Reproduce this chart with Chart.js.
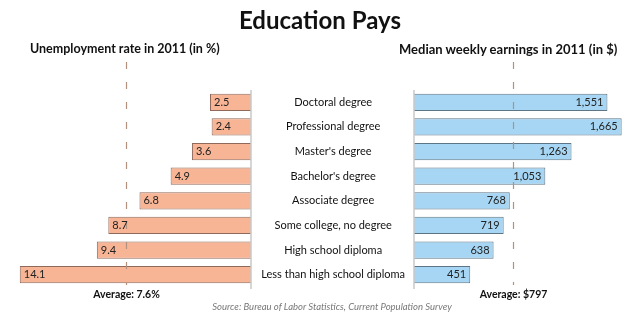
<!DOCTYPE html>
<html>
<head>
<meta charset="utf-8">
<script src="https://cdn.jsdelivr.net/npm/chart.js@4.4.1/dist/chart.umd.min.js"></script>
<style>
  html, body { margin: 0; padding: 0; background: #fff; }
  #wrap { position: relative; width: 640px; height: 328px; font-family: Lato, "Open Sans", sans-serif; color: #111; }
  .txt { position: absolute; white-space: nowrap; }
  #title { left: 0; width: 640px; top: 5px; text-align: center; font-size: 24px; font-weight: bold; }
  #hLeft { left: 30px; top: 41px; font-size: 12.5px; font-weight: bold; }
  #hRight { left: 399px; top: 41px; font-size: 13px; font-weight: bold; }
  #source { left: 24px; width: 616px; top: 301px; text-align: center; font-size: 9.5px; font-style: italic; color: #777; }
  #leftBox { position: absolute; left: 0; top: 0; width: 256px; height: 328px; }
  #rightBox { position: absolute; left: 240px; top: 0; width: 400px; height: 328px; }
</style>
</head>
<body>
<div id="wrap">
  <div id="rightBox"><canvas id="rightChart"></canvas></div>
  <div id="leftBox"><canvas id="leftChart"></canvas></div>
  <div class="txt" id="title">Education Pays</div>
  <div class="txt" id="hLeft">Unemployment rate in 2011 (in %)</div>
  <div class="txt" id="hRight">Median weekly earnings in 2011 (in $)</div>
  <div class="txt" id="source">Source: Bureau of Labor Statistics, Current Population Survey</div>
</div>
<script>
"use strict";

// kategorier (utbildningsnivå)
const degrees = [
  "Doctoral degree",
  "Professional degree",
  "Master's degree",
  "Bachelor's degree",
  "Associate degree",
  "Some college, no degree",
  "High school diploma",
  "Less than high school diploma"
];

// arbetslöshet i procent
const unemployment = [2.5, 2.4, 3.6, 4.9, 6.8, 8.7, 9.4, 14.1];
// veckolön i dollar
const earnings = [1551, 1665, 1263, 1053, 768, 719, 638, 451];

const unemploymentAvg = 7.6;
const earningsAvg = 797;

const fontName = "Lato, 'Open Sans', sans-serif";

// ritar baslinje, medelvärdeslinje och värden i staplarna
const extrasPlugin = {
  id: "extras",
  afterDatasetsDraw(chart, args, opts) {
    const ctx = chart.ctx;
    const x = chart.scales.x;
    const area = chart.chartArea;

    // grå baslinje vid noll
    const x0 = x.getPixelForValue(0);
    ctx.save();
    ctx.strokeStyle = "#c8c8c8";
    ctx.lineWidth = 1.5;
    ctx.beginPath();
    ctx.moveTo(x0, area.top);
    ctx.lineTo(x0, area.bottom + 2);
    ctx.stroke();

    // streckad linje för medelvärdet
    const xa = Math.round(x.getPixelForValue(opts.avg)) + 0.5;
    ctx.strokeStyle = "#b4917f";
    ctx.lineWidth = 1.2;
    ctx.setLineDash([7, 13]);
    ctx.beginPath();
    ctx.moveTo(xa, 62);
    ctx.lineTo(xa, area.bottom - 2);
    ctx.stroke();
    ctx.setLineDash([]);

    ctx.fillStyle = "#111";
    ctx.font = "bold 10.5px " + fontName;
    ctx.textAlign = "center";
    ctx.textBaseline = "middle";
    ctx.fillText(opts.avgText, xa, area.bottom + 8);

    // värden inne i staplarna
    const meta = chart.getDatasetMeta(0);
    ctx.font = "11px " + fontName;
    ctx.fillStyle = "#222";
    meta.data.forEach((bar, i) => {
      const val = chart.data.datasets[0].data[i];
      const txt = opts.format(val);
      if (opts.side === "left") {
        ctx.textAlign = "left";
        ctx.fillText(txt, bar.x + 4, bar.y);
      } else {
        ctx.textAlign = "right";
        ctx.fillText(txt, bar.x - 4, bar.y);
      }
    });
    ctx.restore();
  }
};

function drawLeft() {
  const ctx = document.getElementById("leftChart");
  new Chart(ctx, {
    type: "bar",
    data: {
      labels: degrees,
      datasets: [{
        data: unemployment,
        backgroundColor: "#f8b596",
        borderColor: "#8f6a5a",
        borderWidth: 1,
        borderSkipped: "start",
        categoryPercentage: 1,
        barPercentage: 0.7
      }]
    },
    options: {
      indexAxis: "y",
      responsive: false,
      animation: false,
      layout: { padding: { left: 5, right: 5, top: 90, bottom: 41 } },
      scales: {
        x: { reverse: true, min: 0, max: 15, display: false },
        y: { display: false }
      },
      plugins: {
        legend: { display: false },
        tooltip: { enabled: false },
        extras: {
          side: "left",
          avg: unemploymentAvg,
          avgText: "Average: 7.6%",
          format: v => v.toFixed(1)
        }
      }
    },
    plugins: [extrasPlugin]
  });
}

function drawRight() {
  const ctx = document.getElementById("rightChart");
  new Chart(ctx, {
    type: "bar",
    data: {
      labels: degrees,
      datasets: [{
        data: earnings,
        backgroundColor: "#a6d6f3",
        borderColor: "#5e7585",
        borderWidth: 1,
        borderSkipped: "start",
        categoryPercentage: 1,
        barPercentage: 0.7
      }]
    },
    options: {
      indexAxis: "y",
      responsive: false,
      animation: false,
      layout: { padding: { left: 0, right: 4, top: 90, bottom: 41 } },
      scales: {
        x: { min: 0, max: 1780, display: false },
        y: {
          grid: { display: false, drawTicks: false },
          border: { display: false },
          ticks: {
            crossAlign: "center",
            padding: 9,
            color: "#111",
            font: { family: fontName, size: 11 }
          },
          afterFit(scale) { scale.width = 174; }
        }
      },
      plugins: {
        legend: { display: false },
        tooltip: { enabled: false },
        extras: {
          side: "right",
          avg: earningsAvg,
          avgText: "Average: $797",
          format: v => v.toLocaleString("en-US")
        }
      }
    },
    plugins: [extrasPlugin]
  });
}

document.getElementById("leftChart").width = 256;
document.getElementById("leftChart").height = 328;
document.getElementById("rightChart").width = 400;
document.getElementById("rightChart").height = 328;
drawRight();
drawLeft();
</script>
</body>
</html>
